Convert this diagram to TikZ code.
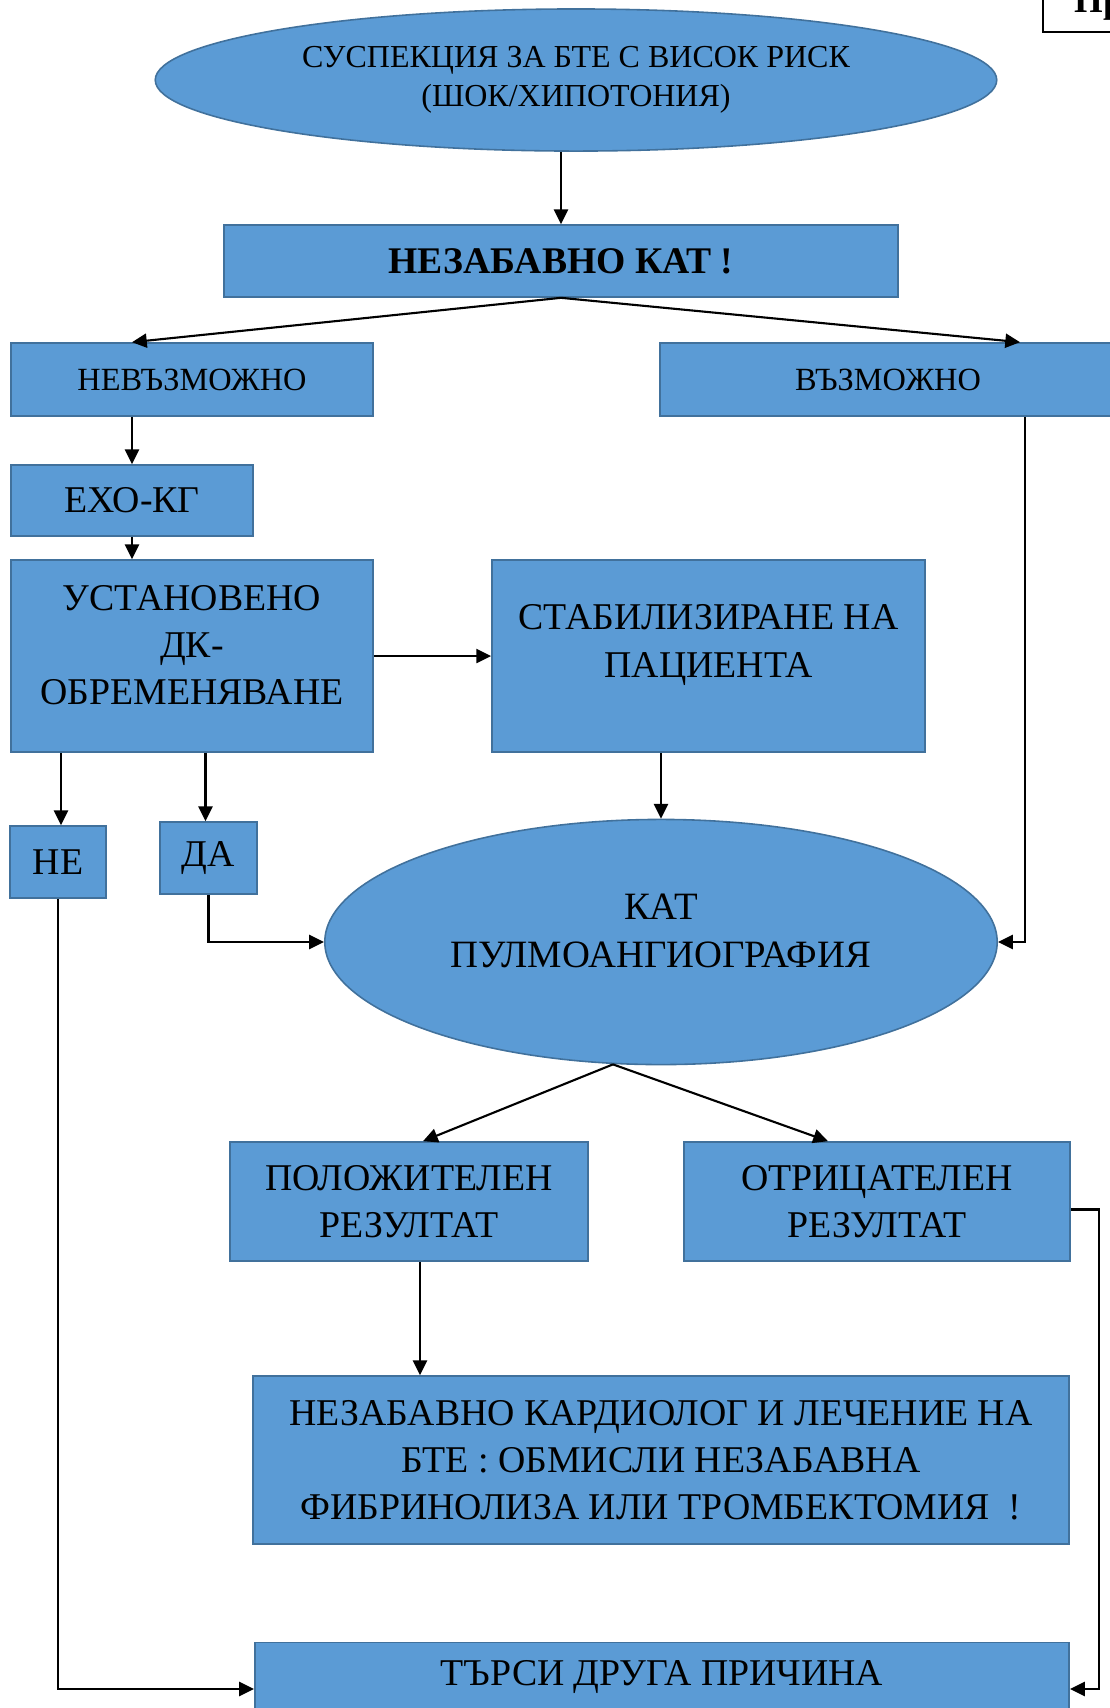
\documentclass[tikz,border=0pt]{standalone}
\usepackage{fontspec}
\setmainfont{Liberation Serif}
\usetikzlibrary{arrows.meta,shapes.geometric}
\definecolor{fillblue}{HTML}{5B9BD5}
\definecolor{edgeblue}{HTML}{41719C}

\begin{document}
\begin{tikzpicture}[x=0.01cm,y=-0.01cm,
  txt/.style={inner sep=0pt, align=center, font=\fontsize{10.75}{13.4}\selectfont},
  box/.style={txt, draw=edgeblue, fill=fillblue, line width=0.45pt},
  oval/.style={box, ellipse},
  arr/.style={-{Triangle[length=4.2pt,width=4pt]}, line width=0.6pt}]
  \useasboundingbox (0,0) rectangle (1110,1708);
  \clip (0,0) rectangle (1110,1708);

  % corner box, cut by the page
  \draw[line width=0.5pt] (1043,-5) rectangle (1140,32);
  \node[font=\bfseries\fontsize{10.5}{13}\selectfont, anchor=base west] (pr) at (1062,12) {Пр};

  \node[oval, minimum width=8.41cm, minimum height=1.42cm,
    font=\fontsize{9.1}{11}\selectfont] (susp) at (576,80)
    {СУСПЕКЦИЯ ЗА БТЕ С ВИСОК РИСК\\(ШОК/ХИПОТОНИЯ)};
  \node[box, minimum width=6.74cm, minimum height=0.72cm,
    font=\bfseries\fontsize{10.7}{13.3}\selectfont] (cat) at (561,261) {НЕЗАБАВНО КАТ !};
  \node[box, minimum width=3.62cm, minimum height=0.73cm,
    font=\fontsize{9.2}{11}\selectfont] (nev) at (192,379.5) {НЕВЪЗМОЖНО};
  \node[box, minimum width=4.56cm, minimum height=0.73cm,
    font=\fontsize{9.2}{11}\selectfont] (vaz) at (888,379.5) {ВЪЗМОЖНО};
  \node[box, minimum width=2.42cm, minimum height=0.71cm] (eho) at (132,500.5) {ЕХО-КГ};
  \node[box, minimum width=3.62cm, minimum height=1.92cm] (ust) at (192,656) {};
  \node[txt] (usttext) at (192,645) {УСТАНОВЕНО\\ДК-\\ОБРЕМЕНЯВАНЕ};
  \node[box, minimum width=4.33cm, minimum height=1.92cm] (stab) at (708.5,656) {};
  \node[txt] (stabtext) at (708.5,645) {СТАБИЛИЗИРАНЕ НА\\ПАЦИЕНТА};
  \node[box, minimum width=0.96cm, minimum height=0.72cm] (ne) at (58,862) {НЕ};
  \node[box, minimum width=0.97cm, minimum height=0.72cm] (da) at (208.5,858) {ДА};
  \node[oval, minimum width=6.72cm, minimum height=2.45cm] (kat2) at (661,942) {};
  \node[txt, font=\fontsize{11}{13.6}\selectfont] (kat2text) at (661,931)
    {КАТ\\ПУЛМОАНГИОГРАФИЯ};
  \node[box, minimum width=3.58cm, minimum height=1.19cm] (pol) at (409,1201.5)
    {ПОЛОЖИТЕЛЕН\\РЕЗУЛТАТ};
  \node[box, minimum width=3.86cm, minimum height=1.19cm] (otr) at (877,1201.5)
    {ОТРИЦАТЕЛЕН\\РЕЗУЛТАТ};
  \node[box, minimum width=8.16cm, minimum height=1.68cm] (kard) at (661,1460)
    {НЕЗАБАВНО КАРДИОЛОГ И ЛЕЧЕНИЕ НА\\БТЕ : ОБМИСЛИ НЕЗАБАВНА\\ФИБРИНОЛИЗА ИЛИ ТРОМБЕКТОМИЯ \ !};
  \node[box, minimum width=8.14cm, minimum height=0.69cm] (tarsi) at (662,1677)
    {ТЪРСИ ДРУГА ПРИЧИНА};

  % connectors
  \draw[arr] (cat.north |- susp.south) -- (cat.north);
  \draw[arr] (cat.south) -- (nev.north -| eho.north);
  \draw[arr] (cat.south) -- ([xshift=1.32cm]vaz.north);
  \draw[arr] (nev.south -| eho.north) -- (eho.north);
  \draw[arr] (eho.south) -- (eho.south |- ust.north);
  \draw[arr] (ust.east) -- (stab.west);
  \draw[arr] ([xshift=0.03cm]ne.north |- ust.south) -- ([xshift=0.03cm]ne.north);
  \draw[arr] ([xshift=-0.03cm]da.north |- ust.south) -- ([xshift=-0.03cm]da.north);
  \draw[arr] (stab.south -| kat2.north) -- (kat2.north);
  \draw[arr] (da.south) |- (kat2.west);
  \draw[arr] ([xshift=1.37cm]vaz.south) |- (kat2.east);
  \coordinate (katout) at ([xshift=-0.48cm,yshift=0.01cm]kat2.south);
  \draw[arr] (katout) -- ([xshift=0.14cm]pol.north);
  \draw[arr] (katout) -- ([xshift=-0.49cm]otr.north);
  \coordinate (polout) at ([xshift=0.11cm]pol.south);
  \draw[arr] (polout) -- (polout |- kard.north);
  \draw[arr] (ne.south) |- ([yshift=-0.12cm]tarsi.west);
  \draw[arr] ([yshift=-0.08cm]otr.east) -- ++(28,0) |- ([yshift=-0.12cm]tarsi.east);
\end{tikzpicture}
\end{document}
